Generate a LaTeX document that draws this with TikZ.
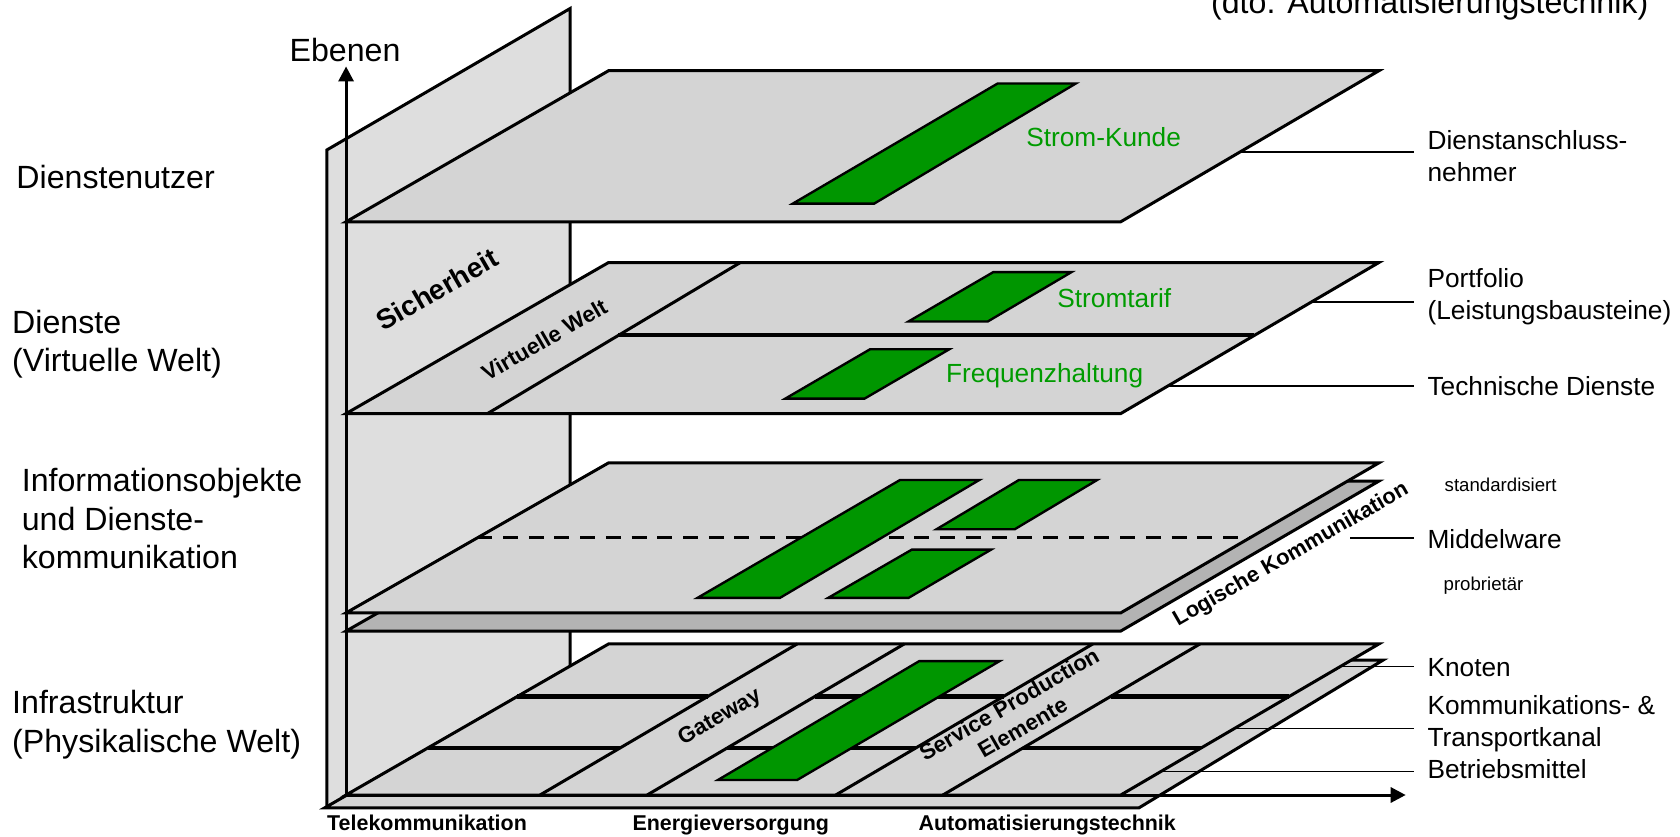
\documentclass[tikz,border=0pt]{standalone}
\usepackage{fontspec}
\setmainfont{Liberation Sans}
\usetikzlibrary{arrows.meta,calc}
\definecolor{planegray}{RGB}{212,212,212}
\definecolor{wallgray}{RGB}{222,222,222}
\definecolor{slabgray}{RGB}{179,179,179}
\definecolor{patchgreen}{RGB}{0,150,0}
\definecolor{labelgreen}{RGB}{0,155,0}
\begin{document}
\begin{tikzpicture}[x=0.5pt,y=-0.5pt,line join=miter,
  plane/.style={fill=planegray,draw=black,line width=1.4pt},
  slabplane/.style={fill=slabgray,draw=black,line width=1.4pt},
  patch/.style={fill=patchgreen,draw=black,line width=1.1pt},
  rim/.style={line width=1.4pt},
  hline/.style={line width=2pt},
  leader/.style={line width=0.8pt},
  axisline/.style={line width=1.4pt,-{Triangle[length=7pt,width=7pt]}},
  lefttext/.style={anchor=base west,inner sep=0pt,font=\fontsize{15}{18}\selectfont},
  righttext/.style={anchor=base west,inner ysep=0pt,inner xsep=6pt,font=\fontsize{12.25}{14}\selectfont},
  smalltext/.style={anchor=base west,inner sep=0pt,font=\fontsize{8.7}{10}\selectfont},
  greentext/.style={anchor=base,inner sep=0pt,text=labelgreen,font=\fontsize{12.25}{14}\selectfont},
  tilted/.style={rotate=30,inner sep=0pt,align=center,font=\bfseries\fontsize{10.4}{12.5}\selectfont},
  sectortext/.style={anchor=base west,inner sep=0pt,font=\bfseries\fontsize{10}{12}\selectfont}
]
\clip (0,0) rectangle (1568,781);

% ---- security wall behind the layers
\fill[wallgray] (305,140) -- (532,8) -- (532,754) -- (305,754) -- cycle;
\draw[rim] (305,754) -- (305,140) -- (532,8) -- (532,700);
\node[tilted,font=\bfseries\fontsize{13}{15}\selectfont] (sich) at (408,270) {Sicherheit};

% ---- layer 1: service users
\coordinate (A-bl) at (323,207);
\coordinate (A-tl) at (568,66);
\coordinate (A-tr) at (1287,66);
\coordinate (A-br) at (1046,207);
\draw[plane] (A-bl) -- (A-tl) -- (A-tr) -- (A-br) -- cycle;
\draw[patch] (740,190) -- (931,78) -- (1004,78) -- (816,190) -- cycle;
\node[greentext] (strom) at (1030,137) {Strom-Kunde};

% ---- layer 2: services
\coordinate (B-bl) at (323,386);
\coordinate (B-tl) at (568,245);
\coordinate (B-tr) at (1287,245);
\coordinate (B-br) at (1046,386);
\coordinate (vw-b) at (455,386);
\coordinate (vw-t) at (691,245);
\draw[plane] (B-bl) -- (B-tl) -- (B-tr) -- (B-br) -- cycle;
\draw[rim] (vw-b) -- (vw-t);
\draw[line width=1.8pt] ($(vw-b)!.5177!(vw-t)$) -- ($(B-br)!.5177!(B-tr)$);
\draw[patch] (848,300) -- (927,254) -- (1000,254) -- (922,300) -- cycle;
\draw[patch] (733,372) -- (812,326) -- (886,326) -- (807,372) -- cycle;
\node[greentext] (tarif) at (1040,287) {Stromtarif};
\node[greentext] (freq) at (975,357) {Frequenzhaltung};
\node[tilted] (vw) at (508,317) {Virtuelle Welt};

% ---- layer 3: information objects and communication
\coordinate (C-bl) at (323,572);
\coordinate (C-tl) at (568,432);
\coordinate (C-tr) at (1287,432);
\coordinate (C-br) at (1046,572);
\draw[slabplane] (323,589) -- (568,449) -- (1287,449) -- (1046,589) -- cycle;
\draw[plane] (C-bl) -- (C-tl) -- (C-tr) -- (C-br) -- cycle;
\draw[line width=1.4pt,dash pattern=on 7pt off 5pt] ($(C-bl)!.5!(C-tl)$) -- ($(C-br)!.5!(C-tr)$);
\draw[patch] (651,558) -- (840,448) -- (914,448) -- (728,558) -- cycle;
\draw[patch] (874,494) -- (951,448) -- (1024,448) -- (947,494) -- cycle;
\draw[patch] (773,558) -- (851,513) -- (925,513) -- (848,558) -- cycle;
\node[tilted,font=\bfseries\fontsize{10.2}{12}\selectfont] (logk) at (1205,518) {Logische Kommunikation};

% ---- layer 4: infrastructure
\coordinate (I-bl) at (323,742);
\coordinate (I-tl) at (568,601);
\coordinate (I-tr) at (1287,601);
\coordinate (I-br) at (1046,742);
\coordinate (d1b) at (504,742); \coordinate (d1t) at (744,601);
\coordinate (d2b) at (604,742); \coordinate (d2t) at (844,601);
\coordinate (d3b) at (780,742); \coordinate (d3t) at (1020,601);
\coordinate (d4b) at (880,742); \coordinate (d4t) at (1120,601);
\draw[plane] (303,754) -- (543,616) -- (1291,616) -- (1063,754) -- cycle;
\draw[plane] (I-bl) -- (I-tl) -- (I-tr) -- (I-br) -- cycle;
\foreach \t in {.6525,.312}{
  \draw[hline] ($(I-bl)!\t!(I-tl)$) -- ($(d1b)!\t!(d1t)$);
  \draw[hline] ($(d2b)!\t!(d2t)$) -- ($(d3b)!\t!(d3t)$);
  \draw[hline] ($(d4b)!\t!(d4t)$) -- ($(I-br)!\t!(I-tr)$);
}
\foreach \d in {d1,d2,d3,d4}{ \draw[rim] (\d b) -- (\d t); }
\draw[patch] (670,728) -- (858,617) -- (933,617) -- (744,728) -- cycle;
\node[tilted] (gw) at (672,670) {Gateway};
\node[tilted] (spe) at (948,668) {Service Production\\Elemente};

% ---- axes
\draw[axisline] (I-bl) -- (323,62);
\draw[axisline] (I-bl) -- (1312,742);
\node[anchor=base,inner sep=0pt,font=\fontsize{15}{18}\selectfont] (ebenen) at (322,57) {Ebenen};

% ---- sector names along the base
\node[sectortext] (tele) at (305,775) {Telekommunikation};
\node[sectortext] (ener) at (590,775) {Energieversorgung};
\node[sectortext] (auto) at (857,775) {Automatisierungstechnik};

% ---- layer names on the left
\node[lefttext] (l1) at (15,176) {Dienstenutzer};
\node[lefttext] (l2a) at (11,311) {Dienste};
\node[lefttext] (l2b) at (11,347) {(Virtuelle Welt)};
\node[lefttext] (l3a) at (20,459) {Informationsobjekte};
\node[lefttext] (l3b) at (20,495) {und Dienste-};
\node[lefttext] (l3c) at (20,531) {kommunikation};
\node[lefttext] (l4a) at (11,666) {Infrastruktur};
\node[lefttext] (l4b) at (11,702) {(Physikalische Welt)};
\node[lefttext] (dto) at (1130,13) {(dto. Automatisierungstechnik)};

% ---- element names on the right with leader lines
\node[righttext] (dan1) at (1320,140) {Dienstanschluss-};
\node[righttext] (dan2) at (1320,169) {nehmer};
\node[righttext] (port1) at (1320,268) {Portfolio};
\node[righttext] (port2) at (1320,298) {(Leistungsbausteine)};
\node[righttext] (techd) at (1320,369) {Technische Dienste};
\node[smalltext] (std) at (1348,459) {standardisiert};
\node[righttext] (mw) at (1320,512) {Middelware};
\node[smalltext] (prop) at (1347,551) {probrietär};
\node[righttext] (knot) at (1320,631) {Knoten};
\node[righttext] (kom1) at (1320,667) {Kommunikations- \&};
\node[righttext] (kom2) at (1320,697) {Transportkanal};
\node[righttext] (betr) at (1320,727) {Betriebsmittel};

\coordinate (dan-s) at ($(A-br)!.461!(A-tr)$);
\coordinate (port-s) at ($(B-br)!.7376!(B-tr)$);
\coordinate (tech-s) at ($(B-br)!.184!(B-tr)$);
\coordinate (mw-s) at (1260,502);
\coordinate (knot-s) at ($(I-br)!.851!(I-tr)$);
\coordinate (kom-s) at ($(I-br)!.44!(I-tr)$);
\coordinate (betr-s) at ($(I-br)!.156!(I-tr)$);
\draw[leader] (dan-s) -- (dan-s -| dan1.west);
\draw[leader] (port-s) -- (port-s -| port1.west);
\draw[leader] (tech-s) -- (tech-s -| techd.west);
\draw[leader] (mw-s) -- (mw-s -| mw.west);
\draw[leader] (knot-s) -- (knot-s -| knot.west);
\draw[leader] (kom-s) -- (kom-s -| kom1.west);
\draw[leader] (betr-s) -- (betr-s -| betr.west);
\end{tikzpicture}
\end{document}
